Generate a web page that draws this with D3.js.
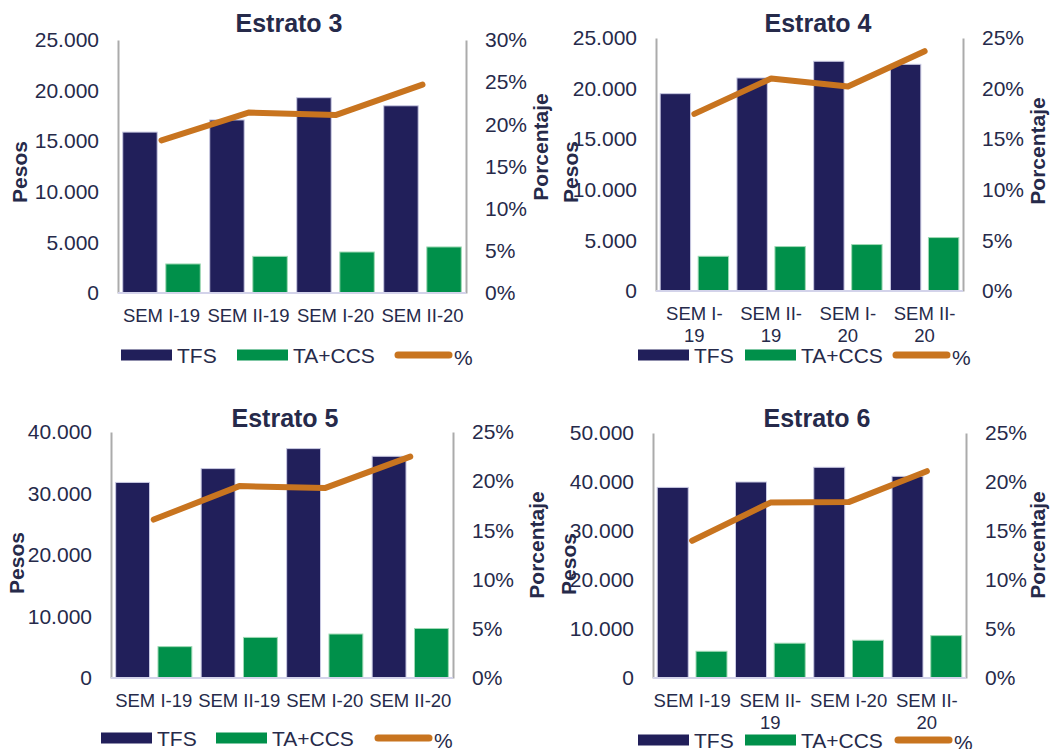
<!DOCTYPE html>
<html>
<head>
<meta charset="utf-8">
<script src="https://cdn.jsdelivr.net/npm/d3@7"></script>
<style>
  body { margin: 0; background: #fff; }
  svg { font-family: "Liberation Sans", Arial, sans-serif; }
</style>
</head>
<body>
<div id="chart"></div>
<script>
// categories (x axis) shared by all four panels
const categories = ["SEM I-19", "SEM II-19", "SEM I-20", "SEM II-20"];
const seriesNames = ["TFS", "TA+CCS", "%"];

// Estrato 3
const tfs3 = [15900, 17100, 19300, 18500];
const ta3 = [2870, 3620, 4050, 4550];
const pct3 = [18.1, 21.4, 21.1, 24.7];
// Estrato 4
const tfs4 = [19500, 21050, 22700, 22400];
const ta4 = [3430, 4390, 4590, 5280];
const pct4 = [17.5, 21.0, 20.2, 23.7];
// Estrato 5
const tfs5 = [31800, 34050, 37300, 36050];
const ta5 = [5100, 6600, 7150, 8050];
const pct5 = [16.1, 19.5, 19.3, 22.5];
// Estrato 6
const tfs6 = [38900, 40000, 43000, 41150];
const ta6 = [5450, 7100, 7700, 8650];
const pct6 = [14.0, 17.9, 17.95, 21.1];

// axis limits (max, step) per panel
const leftMax = [25000, 25000, 40000, 50000];
const leftStep = [5000, 5000, 10000, 10000];
const rightMax = [30, 25, 25, 25];
const titles = ["Estrato 3", "Estrato 4", "Estrato 5", "Estrato 6"];

const colors = { tfs: "#211f5a", ta: "#00904a", pct: "#c8741f", text: "#262a4a" };
const fmtPesos = d3.formatLocale({ decimal: ",", thousands: ".", grouping: [3], currency: ["$", ""] }).format(",");

class ComboChart {
    constructor(svg, data, layout) {
        this.svg = svg;
        this.data = data;
        this.l = layout;

        this.x = d3.scaleBand()
            .domain(categories)
            .range([layout.left, layout.right]);
        this.xSub = d3.scaleBand()
            .domain(["tfs", "ta"])
            .range([0, this.x.bandwidth()])
            .paddingInner(0.2)
            .paddingOuter(0.11);
        this.y = d3.scaleLinear()
            .domain([0, data.leftMax])
            .range([layout.bottom, layout.top]);
        this.y2 = d3.scaleLinear()
            .domain([0, data.rightMax])
            .range([layout.bottom, layout.top]);
    }

    drawChart() {
        let l = this.l, that = this;
        let g = this.svg.append("g");

        //title
        g.append("text")
            .attr("x", l.titleX).attr("y", l.titleY)
            .attr("text-anchor", "middle")
            .attr("dominant-baseline", "central")
            .attr("font-size", 25).attr("font-weight", "bold")
            .attr("fill", colors.text)
            .text(this.data.title);

        //left axis
        let yAxis = g.append("g")
            .attr("transform", "translate(" + l.left + ",0)")
            .call(d3.axisLeft(this.y)
                .tickValues(d3.range(0, this.data.leftMax + 1, this.data.leftStep))
                .tickFormat(fmtPesos)
                .tickSize(0).tickPadding(19));
        //right axis
        let y2Axis = g.append("g")
            .attr("transform", "translate(" + l.right + ",0)")
            .call(d3.axisRight(this.y2)
                .tickValues(d3.range(0, this.data.rightMax + 1, 5))
                .tickFormat(d => d + "%")
                .tickSize(0).tickPadding(19));
        [yAxis, y2Axis].forEach(a => {
            a.select(".domain").attr("stroke", "#ababab").attr("stroke-width", 2);
            a.selectAll(".tick text")
                .attr("font-size", 21)
                .attr("fill", colors.text)
                .attr("font-family", "Liberation Sans, Arial, sans-serif");
        });

        //bars
        let groups = g.selectAll(".cat")
            .data(categories)
            .enter().append("g")
            .attr("transform", d => "translate(" + this.x(d) + ",0)");
        groups.append("rect")
            .attr("x", this.xSub("tfs"))
            .attr("width", this.xSub.bandwidth())
            .attr("y", (d, i) => this.y(this.data.tfs[i]))
            .attr("height", (d, i) => this.y(0) - this.y(this.data.tfs[i]))
            .attr("fill", colors.tfs)
            .attr("stroke", "#c9c9e2").attr("stroke-width", 1);
        groups.append("rect")
            .attr("x", this.xSub("ta"))
            .attr("width", this.xSub.bandwidth())
            .attr("y", (d, i) => this.y(this.data.ta[i]))
            .attr("height", (d, i) => this.y(0) - this.y(this.data.ta[i]))
            .attr("fill", colors.ta)
            .attr("stroke", "#9fd9b4").attr("stroke-width", 1);

        //bottom axis line
        g.append("line")
            .attr("x1", l.left).attr("x2", l.right)
            .attr("y1", this.y(0)).attr("y2", this.y(0))
            .attr("stroke", "#d3d3ea").attr("stroke-width", 2);

        //x labels, wrapped after the hyphen when too long
        categories.forEach(function (c, i) {
            let cx = that.x(c) + that.x.bandwidth() / 2;
            let t = g.append("text")
                .attr("x", cx).attr("y", l.bottom + 29)
                .attr("text-anchor", "middle")
                .attr("font-size", 18.5)
                .attr("fill", colors.text)
                .text(c);
            if (t.node().getComputedTextLength() > l.wrapAt) {
                let cut = c.indexOf("-") + 1;
                t.text(c.slice(0, cut));
                g.append("text")
                    .attr("x", cx).attr("y", l.bottom + 51)
                    .attr("text-anchor", "middle")
                    .attr("font-size", 18.5)
                    .attr("fill", colors.text)
                    .text(c.slice(cut));
            }
        });

        //percentage line
        let line = d3.line()
            .x((d, i) => this.x(categories[i]) + this.x.bandwidth() / 2)
            .y(d => this.y2(d));
        g.append("path")
            .datum(this.data.pct)
            .attr("d", line)
            .attr("fill", "none")
            .attr("stroke", colors.pct)
            .attr("stroke-width", 6)
            .attr("stroke-linecap", "round")
            .attr("stroke-linejoin", "round");

        //axis titles
        g.append("text")
            .attr("transform", "translate(" + l.pesosX + "," + l.pesosY + ") rotate(-90)")
            .attr("text-anchor", "middle").attr("dominant-baseline", "central")
            .attr("font-size", 21).attr("font-weight", "bold")
            .attr("fill", colors.text)
            .text("Pesos");
        g.append("text")
            .attr("transform", "translate(" + l.pctX + "," + l.pctY + ") rotate(-90)")
            .attr("text-anchor", "middle").attr("dominant-baseline", "central")
            .attr("font-size", 21).attr("font-weight", "bold")
            .attr("fill", colors.text)
            .text("Porcentaje");

        //legend
        let lg = g.append("g");
        [colors.tfs, colors.ta].forEach(function (col, i) {
            lg.append("rect")
                .attr("x", l.legendX[i]).attr("y", l.legendY - 5.5)
                .attr("width", 51).attr("height", 11)
                .attr("fill", col);
            lg.append("text")
                .attr("x", l.legendX[i] + 56).attr("y", l.legendY)
                .attr("dominant-baseline", "central")
                .attr("font-size", 21).attr("fill", colors.text)
                .text(seriesNames[i]);
        });
        lg.append("line")
            .attr("x1", l.legendX[2] + 3).attr("x2", l.legendX[2] + 54)
            .attr("y1", l.legendY).attr("y2", l.legendY)
            .attr("stroke", colors.pct).attr("stroke-width", 7)
            .attr("stroke-linecap", "round");
        lg.append("text")
            .attr("x", l.legendX[2] + 59).attr("y", l.legendY + 2)
            .attr("dominant-baseline", "central")
            .attr("font-size", 21).attr("fill", colors.text)
            .text(seriesNames[2]);
    }
}

let svg = d3.select("#chart").append("svg")
    .attr("width", 1051).attr("height", 749);

let panels = [
    { tfs: tfs3, ta: ta3, pct: pct3 },
    { tfs: tfs4, ta: ta4, pct: pct4 },
    { tfs: tfs5, ta: ta5, pct: pct5 },
    { tfs: tfs6, ta: ta6, pct: pct6 }
];
panels.forEach((p, i) => {
    p.title = titles[i];
    p.leftMax = leftMax[i];
    p.leftStep = leftStep[i];
    p.rightMax = rightMax[i];
});

let layouts = [
    { left: 118, right: 466, top: 40, bottom: 293, titleX: 289, titleY: 23, wrapAt: 90,
      pesosX: 19, pesosY: 172, pctX: 540, pctY: 147, legendX: [121, 237, 395], legendY: 355 },
    { left: 656, right: 963, top: 38, bottom: 291, titleX: 818, titleY: 23, wrapAt: 72,
      pesosX: 570, pesosY: 172, pctX: 1037, pctY: 151, legendX: [638, 745, 893], legendY: 355 },
    { left: 111, right: 453, top: 432, bottom: 678, titleX: 285, titleY: 418, wrapAt: 90,
      pesosX: 16, pesosY: 563, pctX: 536, pctY: 545, legendX: [101, 216, 375], legendY: 738 },
    { left: 653, right: 966, top: 433, bottom: 678, titleX: 817, titleY: 418, wrapAt: 80,
      pesosX: 568, pesosY: 564, pctX: 1037, pctY: 545, legendX: [638, 745, 895], legendY: 740 }
];

panels.forEach((p, i) => {
    let chart = new ComboChart(svg, p, layouts[i]);
    chart.drawChart();
});
</script>
</body>
</html>
